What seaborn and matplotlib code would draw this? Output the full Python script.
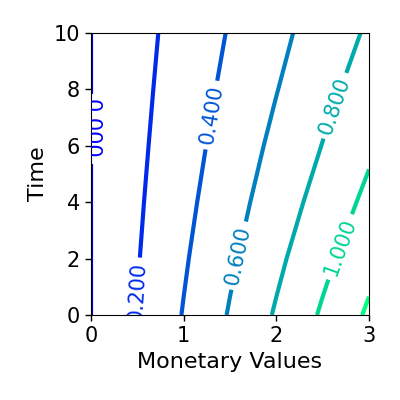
import numpy as np
import pandas as pd
import matplotlib
matplotlib.use("Agg")
import matplotlib.pyplot as plt
import seaborn as sns

# grid
money = [0.0, 0.5, 1.0, 1.5, 2.0, 2.5, 3.0]
time = [0, 2, 4, 6, 8, 10]
values = [
    [0.0, 0.205, 0.410, 0.615, 0.820, 1.025, 1.230],
    [0.0, 0.190, 0.379, 0.569, 0.758, 0.948, 1.137],
    [0.0, 0.175, 0.349, 0.524, 0.698, 0.873, 1.047],
    [0.0, 0.161, 0.322, 0.483, 0.644, 0.805, 0.966],
    [0.0, 0.149, 0.297, 0.446, 0.594, 0.743, 0.891],
    [0.0, 0.138, 0.275, 0.413, 0.550, 0.688, 0.825],
]
levels = [0.0, 0.2, 0.4, 0.6, 0.8, 1.0, 1.2]

df = pd.DataFrame(values, index=time, columns=money)

sns.set_style("ticks", {"axes.edgecolor": "black",
                        "axes.labelcolor": "black",
                        "text.color": "black",
                        "xtick.color": "black",
                        "ytick.color": "black"})
plt.rcParams['font.family'] = ['DejaVu Sans']

fig = plt.figure(figsize=(4, 4), dpi=100)
ax = fig.add_axes([0.2275, 0.2125, 0.695, 0.705])

X, Y = np.meshgrid(df.columns.values, df.index.values)
cs = ax.contour(X, Y, df.values, levels=levels, cmap='winter', linewidths=3)

# where the labels sit in the reference
label_spots = [(0.0, 6.6), (0.52, 0.8), (1.28, 7.1), (1.6, 2.1), (2.65, 7.4), (2.7, 2.4)]
ax.clabel(cs, inline=True, fontsize=15, fmt='%1.3f', manual=label_spots)

ax.set_xlim(0, 3)
ax.set_ylim(0, 10)
ax.set_xticks([0, 1, 2, 3])
ax.set_yticks([0, 2, 4, 6, 8, 10])
ax.tick_params(labelsize=15, length=4.5, width=1)
ax.set_xlabel('Monetary Values', fontsize=16)
ax.set_ylabel('Time', fontsize=16)

plt.savefig('out.png', dpi=100)
